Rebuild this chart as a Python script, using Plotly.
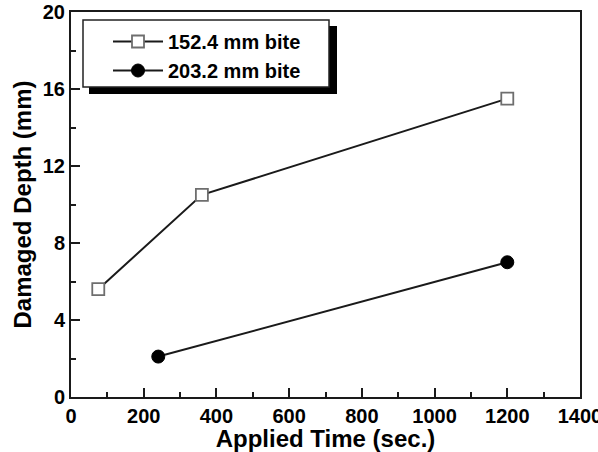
import plotly.graph_objects as go

# Data
x_152 = [75, 360, 1200]
y_152 = [5.6, 10.5, 15.5]
x_203 = [240, 1200]
y_203 = [2.1, 7.0]
series_names = ["152.4 mm bite", "203.2 mm bite"]

W, H = 598, 452
L, R, T, B = 71, 580, 12, 397  # plot area in px

def px_x(px):
    return (px - L) / (R - L)

def px_y(py):
    return (B - py) / (B - T)

FONT = "Liberation Sans, Arial, sans-serif"
LINEC = "#1a1a1a"

fig = go.Figure()
fig.add_trace(go.Scatter(
    x=x_152, y=y_152, mode="lines+markers", name=series_names[0],
    line=dict(color=LINEC, width=2),
    marker=dict(symbol="square", size=12, color="white",
                line=dict(color="#6e6e6e", width=1.8)),
))
fig.add_trace(go.Scatter(
    x=x_203, y=y_203, mode="lines+markers", name=series_names[1],
    line=dict(color=LINEC, width=2),
    marker=dict(symbol="circle", size=13, color="black",
                line=dict(color="black", width=1)),
))

# legend box with shadow
fig.add_shape(type="rect", xref="paper", yref="paper",
              x0=px_x(89), x1=px_x(337), y0=px_y(94), y1=px_y(26),
              fillcolor="black", line=dict(width=0), layer="above")
fig.add_shape(type="rect", xref="paper", yref="paper",
              x0=px_x(83), x1=px_x(329), y0=px_y(87), y1=px_y(20),
              fillcolor="white", line=dict(color="#222", width=1.5), layer="above")

axis_common = dict(
    showline=True, linecolor=LINEC, linewidth=2, mirror=True,
    ticks="inside", ticklen=9, tickwidth=2, tickcolor=LINEC,
    showgrid=False, zeroline=False, automargin=False,
    ticklabeloverflow="allow",
    tickfont=dict(family=FONT, size=20, color="black", weight="bold"),
)

fig.update_layout(
    width=W, height=H,
    margin=dict(l=L, r=W - R, t=T, b=H - B),
    paper_bgcolor="white", plot_bgcolor="white",
    showlegend=True,
    legend=dict(
        x=px_x(108), y=px_y(22), xanchor="left", yanchor="top",
        bgcolor="rgba(0,0,0,0)", borderwidth=0,
        font=dict(family=FONT, size=20, color="black", weight="bold"),
        itemwidth=50, tracegroupgap=0,
    ),
    xaxis=dict(
        range=[0, 1400], dtick=200, tick0=0,
        minor=dict(dtick=100, ticks="inside", ticklen=5, tickwidth=2, tickcolor=LINEC),
        ticklabelstandoff=0,
        title=dict(text="Applied Time (sec.)", standoff=0,
                   font=dict(family=FONT, size=24, color="black", weight="bold")),
        **axis_common,
    ),
    yaxis=dict(
        range=[0, 20], dtick=4, tick0=0,
        minor=dict(dtick=2, ticks="inside", ticklen=5, tickwidth=2, tickcolor=LINEC),
        title=dict(text="Damaged Depth (mm)", standoff=4,
                   font=dict(family=FONT, size=24, color="black", weight="bold")),
        **axis_common,
    ),
)

fig.write_html("out.html")
